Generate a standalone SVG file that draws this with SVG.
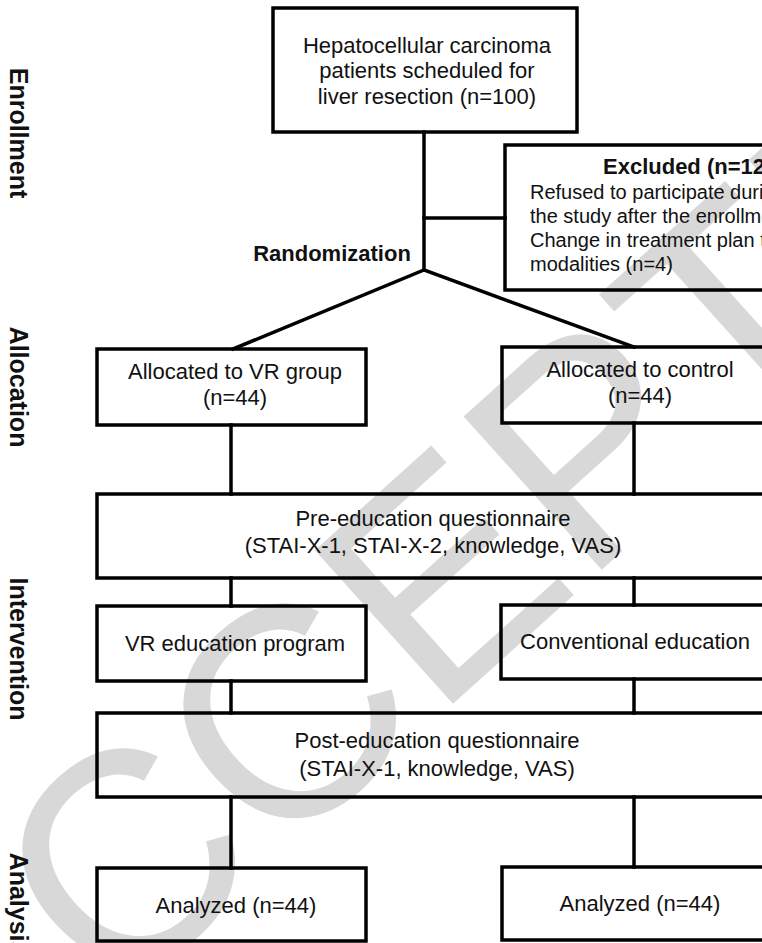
<svg xmlns="http://www.w3.org/2000/svg" width="762" height="943" viewBox="0 0 762 943">
<style>
.box{fill:none;stroke:#000;stroke-width:3.5}
.t{font-family:"Liberation Sans",Arial,sans-serif;font-size:22px;fill:#111;text-anchor:middle}
.ex{font-family:"Liberation Sans",Arial,sans-serif;font-size:20px;fill:#111}
.exh{font-family:"Liberation Sans",Arial,sans-serif;font-size:22px;font-weight:bold;fill:#111}
.lab{font-family:"Liberation Sans",Arial,sans-serif;font-size:25px;font-weight:bold;fill:#111;text-anchor:middle}
.b{font-weight:bold}
.wm{font-family:"Liberation Sans",Arial,sans-serif;font-size:300px;fill:#d8d8d8}
#connectors line{stroke:#000;stroke-width:3.5;stroke-linecap:square}
</style>
<rect width="762" height="943" fill="#fff"/>
<text class="wm" transform="translate(-36,1144) rotate(-42)">ACCEPTED</text>

<g id="labels">
<text class="lab" transform="translate(10,133) rotate(90)">Enrollment</text>
<text class="lab" transform="translate(10,387) rotate(90)">Allocation</text>
<text class="lab" transform="translate(10,649) rotate(90)">Intervention</text>
<text class="lab" transform="translate(10,904) rotate(90)">Analysis</text>
</g>

<g id="connectors">
<line x1="424" y1="132" x2="424" y2="270"/>
<line x1="424" y1="218" x2="505" y2="218"/>
<line x1="424" y1="270" x2="233" y2="349"/>
<line x1="424" y1="270" x2="634" y2="347"/>
<line x1="231" y1="425" x2="231" y2="494"/>
<line x1="634" y1="423" x2="634" y2="494"/>
<line x1="231" y1="578" x2="231" y2="606"/>
<line x1="634" y1="578" x2="634" y2="605"/>
<line x1="231" y1="681" x2="231" y2="713"/>
<line x1="634" y1="679" x2="634" y2="713"/>
<line x1="231" y1="797" x2="231" y2="868"/>
<line x1="634" y1="797" x2="634" y2="867"/>
</g>

<g id="randomization">
<text class="t b" x="332" y="261">Randomization</text>
</g>

<g id="n-enroll">
<rect class="box" x="273" y="8" width="304" height="124"/>
<text class="t" x="427" y="53">Hepatocellular carcinoma</text>
<text class="t" x="427" y="78">patients scheduled for</text>
<text class="t" x="427" y="104">liver resection (n=100)</text>
</g>

<g id="n-excluded">
<rect class="box" x="505" y="145" width="350" height="145"/>
<text class="exh" x="603" y="174">Excluded (n=12)</text>
<text class="ex" x="530" y="199">Refused to participate during</text>
<text class="ex" x="530" y="223">the study after the enrollment</text>
<text class="ex" x="530" y="247">Change in treatment plan to</text>
<text class="ex" x="530" y="271">modalities (n=4)</text>
</g>

<g id="n-alloc-vr">
<rect class="box" x="97" y="349" width="269" height="76"/>
<text class="t" x="235" y="379">Allocated to VR group</text>
<text class="t" x="235" y="405">(n=44)</text>
</g>

<g id="n-alloc-ctrl">
<rect class="box" x="502" y="347" width="270" height="76"/>
<text class="t" x="640" y="377">Allocated to control</text>
<text class="t" x="640" y="403">(n=44)</text>
</g>

<g id="n-pre">
<rect class="box" x="97" y="494" width="675" height="84"/>
<text class="t" x="433" y="526">Pre-education questionnaire</text>
<text class="t" x="433" y="553">(STAI-X-1, STAI-X-2, knowledge, VAS)</text>
</g>

<g id="n-vr-edu">
<rect class="box" x="97" y="606" width="269" height="75"/>
<text class="t" x="235" y="651">VR education program</text>
</g>

<g id="n-conv-edu">
<rect class="box" x="501" y="605" width="271" height="74"/>
<text class="t" x="635" y="649">Conventional education</text>
</g>

<g id="n-post">
<rect class="box" x="97" y="713" width="675" height="84"/>
<text class="t" x="437" y="748">Post-education questionnaire</text>
<text class="t" x="437" y="776">(STAI-X-1, knowledge, VAS)</text>
</g>

<g id="n-analyzed-vr">
<rect class="box" x="97" y="868" width="269" height="73"/>
<text class="t" x="236" y="913">Analyzed (n=44)</text>
</g>

<g id="n-analyzed-ctrl">
<rect class="box" x="502" y="867" width="270" height="73"/>
<text class="t" x="640" y="911">Analyzed (n=44)</text>
</g>
</svg>
